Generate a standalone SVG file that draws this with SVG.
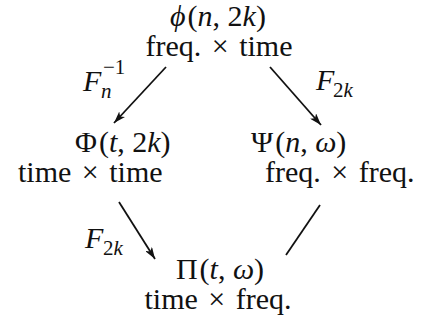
<svg xmlns="http://www.w3.org/2000/svg" width="429" height="320" viewBox="0 0 429 320">
<style>
text { font-family: "Liberation Serif", "Times New Roman", serif; font-size: 30px; fill: #111; }
.i { font-style: italic; }
.s { font-size: 21px; }
.w { word-spacing: 3px; }
.conn line { stroke: #111; stroke-width: 1.8; fill: none; }
</style>
<defs>
<marker id="ah" viewBox="0 0 12 8" refX="12" refY="4" markerWidth="12" markerHeight="8" markerUnits="userSpaceOnUse" orient="auto">
<path d="M0,0 L12,4 L0,8 L3,4 z" fill="#111"/>
</marker>
</defs>
<g id="top">
<text x="218" y="26" text-anchor="middle"><tspan class="i">ϕ</tspan><tspan dx="2">(</tspan><tspan class="i">n</tspan>, 2<tspan class="i">k</tspan>)</text>
<text x="219" y="56" text-anchor="middle" class="w">freq. × time</text>
</g>
<g id="left">
<text x="75" y="152">Φ<tspan dx="2">(</tspan><tspan class="i">t</tspan>, 2<tspan class="i">k</tspan>)</text>
<text x="18" y="182" class="w">time × time</text>
</g>
<g id="right">
<text x="251" y="152">Ψ<tspan dx="2">(</tspan><tspan class="i">n</tspan>, <tspan class="i">ω</tspan>)</text>
<text x="265" y="182" class="w">freq. × freq.</text>
</g>
<g id="bottom">
<text x="220" y="279" text-anchor="middle">Π<tspan dx="2">(</tspan><tspan class="i">t</tspan>, <tspan class="i">ω</tspan>)</text>
<text x="218" y="309" text-anchor="middle" class="w">time × freq.</text>
</g>
<g id="connectors" class="conn">
<line x1="166" y1="67" x2="114" y2="123" marker-end="url(#ah)"/>
<line x1="270" y1="67" x2="321" y2="125" marker-end="url(#ah)"/>
<line x1="119" y1="202" x2="155" y2="259" marker-end="url(#ah)"/>
<line x1="320" y1="205" x2="286" y2="255"/>
<text x="83" y="91" class="i">F</text>
<text x="101" y="98" class="i s">n</text>
<text x="103" y="74" class="s">−1</text>
<text x="316" y="90" class="i">F</text>
<text x="333" y="97" class="s">2<tspan class="i">k</tspan></text>
<text x="85" y="248" class="i">F</text>
<text x="103" y="255" class="s">2<tspan class="i">k</tspan></text>
</g>
</svg>
